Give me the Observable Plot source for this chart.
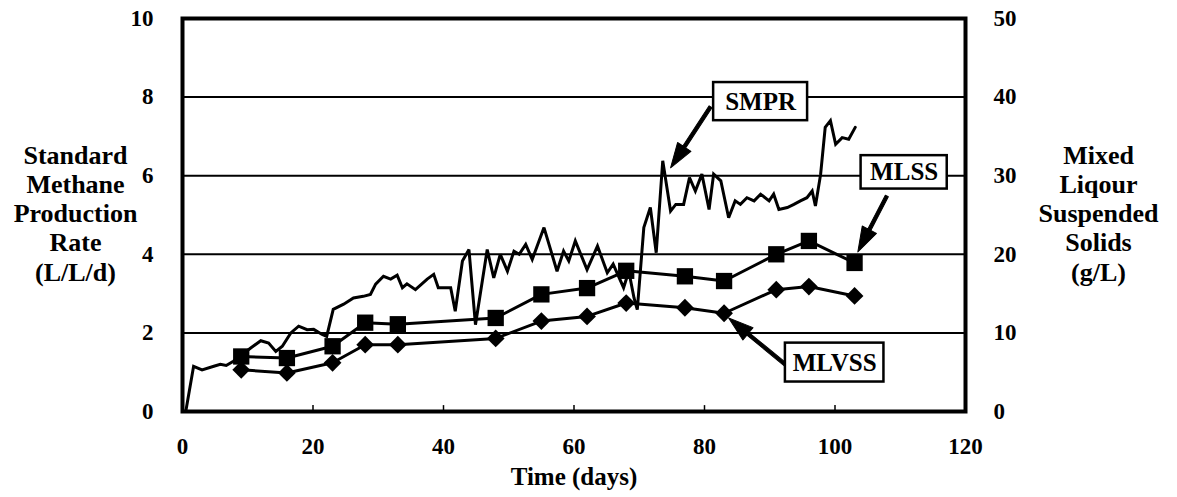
<!DOCTYPE html>
<html>
<head>
<meta charset="utf-8">
<script src="https://cdn.jsdelivr.net/npm/d3@7"></script>
<script src="https://cdn.jsdelivr.net/npm/@observablehq/plot@0.6"></script>
<style>
  html, body { margin: 0; padding: 0; background: #fff; }
  #chart svg { display: block; }
</style>
</head>
<body>
<div id="chart"></div>
<script>
// ---- Data ----
// Standard Methane Production Rate (L/L/d) vs time (days)
const smprDays = [0.5, 1.7, 3.0, 4.8, 5.8, 6.7, 7.8, 10.4, 12.0, 13.2, 14.3, 15.3, 16.6, 17.8, 19.1, 20.1, 21.4, 22.1,
  23.1, 24.7, 26.2, 27.7, 28.8, 29.6, 30.8, 31.9, 32.9, 33.7, 34.4, 35.7, 37.5, 38.5, 39.2, 40.6, 41.1, 41.8, 42.9, 43.9,
  44.9, 46.7, 47.7, 48.7, 49.8, 50.8, 51.6, 52.6, 53.6, 55.4, 57.4, 58.4, 59.2, 60.2, 62.0, 63.6, 65.1, 66.0, 67.6, 68.4,
  69.2, 69.7, 70.7, 71.7, 72.6, 73.6, 74.8, 75.6, 76.8, 77.7, 78.6, 79.6, 80.7, 81.4, 82.5, 83.7, 84.7, 85.5, 86.5, 87.6,
  88.6, 89.9, 90.6, 91.4, 92.7, 93.7, 94.7, 95.7, 96.5, 97.0, 97.8, 98.5, 99.3, 100.1, 101.1, 102.1, 103.1];
const smprValues = [0, 1.15, 1.06, 1.15, 1.2, 1.17, 1.28, 1.61, 1.8, 1.74, 1.53, 1.66, 2.0, 2.17, 2.08, 2.09, 1.96, 1.91,
  2.6, 2.73, 2.89, 2.93, 2.98, 3.24, 3.44, 3.37, 3.47, 3.15, 3.25, 3.1, 3.37, 3.49, 3.15, 3.15, 3.15, 2.55, 3.83, 4.12,
  2.21, 4.12, 3.4, 4.0, 3.57, 4.08, 4.0, 4.25, 3.87, 4.68, 3.57, 4.08, 3.83, 4.34, 3.61, 4.21, 3.53, 3.75, 3.15, 3.57,
  2.89, 2.59, 4.68, 5.19, 4.04, 6.38, 5.1, 5.27, 5.27, 5.95, 5.61, 6.04, 5.14, 6.04, 5.87, 4.93, 5.36, 5.27, 5.44, 5.36,
  5.53, 5.36, 5.53, 5.14, 5.19, 5.27, 5.36, 5.44, 5.61, 5.23, 6.04, 7.23, 7.4, 6.8, 6.97, 6.93, 7.23];

// Mixed liquor suspended solids (g/L), sampled days
const solidsDays = [9, 16, 23, 28, 33, 48, 55, 62, 68, 77, 83, 91, 96, 103];
const mlssValues  = [7.0, 6.8, 8.3, 11.3, 11.1, 11.9, 14.9, 15.7, 17.9, 17.2, 16.6, 20.0, 21.7, 18.9];
const mlvssValues = [5.3, 4.9, 6.2, 8.5, 8.5, 9.3, 11.5, 12.1, 13.8, 13.2, 12.5, 15.5, 15.9, 14.7];

// Axis ticks
const xTicks = [0, 20, 40, 60, 80, 100, 120];
const leftTicks = [0, 2, 4, 6, 8, 10];          // L/L/d
const rightPerLeft = 5;                          // 10 L/L/d <-> 50 g/L
const gridLines = [2, 4, 6, 8];

// Annotation labels (positions in data units: days, L/L/d)
const annoLabels = ["SMPR", "MLSS", "MLVSS"];
const annoBoxX1 = [81.4, 104.0, 92.4];
const annoBoxX2 = [95.8, 117.2, 107.5];
const annoBoxY1 = [7.40, 5.66, 0.75];
const annoBoxY2 = [8.37, 6.51, 1.74];
const annoTipX  = [74.8, 103.5, 83.7];
const annoTipY  = [6.20, 4.06, 2.38];

// ---- Build tables ----
const smpr = smprDays.map((d, i) => ({day: d, v: smprValues[i]}));
const solids = solidsDays.map((d, i) => ({day: d, mlss: mlssValues[i], mlvss: mlvssValues[i]}));
const annos = annoLabels.map((t, i) => ({
  label: t, x1: annoBoxX1[i], x2: annoBoxX2[i], y1: annoBoxY1[i], y2: annoBoxY2[i],
  tx: annoTipX[i], ty: annoTipY[i]
}));

// Solid filled arrow (shaft + triangular head), drawn pointing "up"
const solidArrow = {
  draw(ctx, l) {
    const sw = 1.7, hw = 8, hl = 25;
    ctx.moveTo(-sw, 0);
    ctx.lineTo(-sw, -(l - hl));
    ctx.lineTo(-hw, -(l - hl));
    ctx.lineTo(0, -l);
    ctx.lineTo(hw, -(l - hl));
    ctx.lineTo(sw, -(l - hl));
    ctx.lineTo(sw, 0);
    ctx.closePath();
  }
};
const arrowStyle = [
  {length: 73, rotate: -146.8},
  {length: 63, rotate: -152.6},
  {length: 73, rotate: -50.6}
];

const font = "'Liberation Serif', 'Times New Roman', serif";

const chart = Plot.plot({
  width: 1177,
  height: 497,
  marginLeft: 182,
  marginRight: 212,
  marginTop: 18,
  marginBottom: 86,
  style: {fontFamily: font, fontWeight: "bold", fontSize: "23px", color: "black", background: "white", overflow: "visible"},
  x: {domain: [0, 120], axis: null},
  y: {domain: [0, 10], axis: null},
  marks: [
    Plot.ruleY(gridLines, {stroke: "black", strokeWidth: 2}),
    Plot.ruleX(xTicks.slice(1, -1), {y1: 0, y2: 0.15, stroke: "black", strokeWidth: 1.5}),
    Plot.line(smpr, {x: "day", y: "v", stroke: "black", strokeWidth: 3, strokeLinejoin: "miter", strokeMiterlimit: 3}),
    Plot.line(solids, {x: "day", y: d => d.mlss / rightPerLeft, stroke: "black", strokeWidth: 3}),
    Plot.line(solids, {x: "day", y: d => d.mlvss / rightPerLeft, stroke: "black", strokeWidth: 3}),
    Plot.dot(solids, {x: "day", y: d => d.mlss / rightPerLeft, symbol: "square", r: 9.2, fill: "black", stroke: "none"}),
    Plot.dot(solids, {x: "day", y: d => d.mlvss / rightPerLeft, symbol: "diamond2", r: 8, fill: "black", stroke: "none"}),
    Plot.frame({stroke: "black", strokeWidth: 4}),
    // annotation arrows
    ...annos.map((a, i) => Plot.vector([a], {
      x: "tx", y: "ty", anchor: "end", shape: solidArrow,
      length: arrowStyle[i].length, rotate: arrowStyle[i].rotate,
      fill: "black", stroke: "black", strokeWidth: 1
    })),
    // annotation boxes + labels
    Plot.rect(annos, {x1: "x1", x2: "x2", y1: "y1", y2: "y2", fill: "white", stroke: "black", strokeWidth: 2.5}),
    Plot.text(annos, {x: d => (d.x1 + d.x2) / 2, y: d => (d.y1 + d.y2) / 2, text: "label", fontSize: 25, fill: "black"}),
    // axes
    Plot.axisX(xTicks, {anchor: "bottom", tickSize: 0, tickPadding: 26, label: null, fill: "black"}),
    Plot.axisY(leftTicks, {anchor: "left", tickSize: 0, tickPadding: 29, label: null, fill: "black"}),
    Plot.axisY(leftTicks, {anchor: "right", tickSize: 0, tickPadding: 28, label: null, fill: "black",
      tickFormat: d => String(d * rightPerLeft)}),
    // axis titles
    Plot.text(["Time (days)"], {frameAnchor: "bottom", dy: 73, fontSize: 25, fill: "black"}),
    Plot.text(["Standard\nMethane\nProduction\nRate\n(L/L/d)"], {frameAnchor: "left", dx: -107, dy: -2, textAnchor: "middle", lineHeight: 1.12, fontSize: 26, fill: "black"}),
    Plot.text(["Mixed\nLiqour\nSuspended\nSolids\n(g/L)"], {frameAnchor: "right", dx: 133, dy: -2, textAnchor: "middle", lineHeight: 1.12, fontSize: 26, fill: "black"})
  ]
});
document.getElementById("chart").appendChild(chart);
</script>
</body>
</html>
